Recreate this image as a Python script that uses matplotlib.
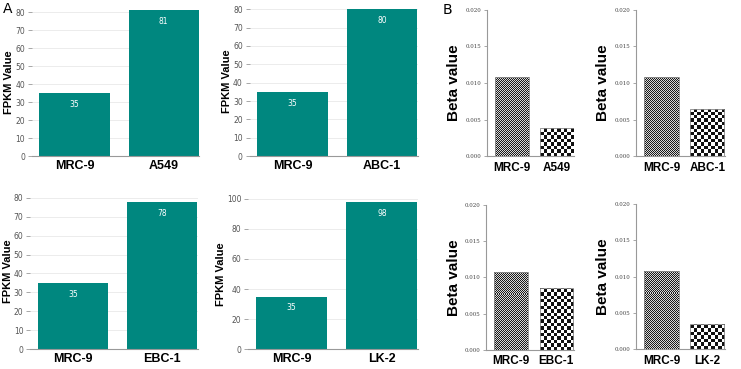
import matplotlib
matplotlib.use("Agg")
import matplotlib.pyplot as plt
import numpy as np

# data
ref_name = "MRC-9"
lines = ["A549", "ABC-1", "EBC-1", "LK-2"]
fpkm_ref = [35, 35, 35, 35]
fpkm_line = [81, 80, 78, 98]
fpkm_ylim = [82, 82, 82, 100]
fpkm_ticks = [np.arange(0, 81, 10), np.arange(0, 81, 10),
              np.arange(0, 81, 10), np.arange(0, 101, 20)]
beta_ref = [0.0108, 0.0108, 0.0108, 0.0108]
beta_line = [0.0039, 0.0064, 0.0085, 0.0035]
beta_ticks = [0.000, 0.005, 0.010, 0.015, 0.020]

TEAL = "#00877f"
SANS = ["Liberation Sans", "DejaVu Sans"]

# axes rectangles in figure fractions (left, bottom, width, height)
A_POS = [(0.043, 0.577, 0.226, 0.400), (0.337, 0.577, 0.227, 0.408),
         (0.041, 0.054, 0.226, 0.420), (0.335, 0.054, 0.229, 0.407)]
B_POS = [(0.657, 0.577, 0.118, 0.396), (0.858, 0.577, 0.120, 0.396),
         (0.656, 0.052, 0.118, 0.393), (0.858, 0.054, 0.120, 0.393)]


def checker(ax, bar, cell_px, dark, light):
    """Fill a bar with a checkerboard clipped to its outline."""
    fig = ax.figure
    bb = ax.get_window_extent(fig.canvas.get_renderer())
    nx = max(1, int(round(bb.width / cell_px)))
    ny = max(1, int(round(bb.height / cell_px)))
    board = (np.add.outer(np.arange(ny), np.arange(nx)) % 2).astype(float)
    cmap = matplotlib.colors.ListedColormap([dark, light])
    im = ax.imshow(board, cmap=cmap, extent=[0, 1, 0, 1], transform=ax.transAxes,
                   interpolation="nearest", aspect="auto", zorder=2)
    im.set_clip_path(bar)


fig = plt.figure(figsize=(7.41, 3.69), dpi=100)

for i, pos in enumerate(A_POS):
    ax = fig.add_axes(pos)
    vals = [fpkm_ref[i], fpkm_line[i]]
    bars = ax.bar([0, 1], vals, width=0.79, color=TEAL, zorder=2)
    for b, v in zip(bars, vals):
        ax.annotate(str(v), (b.get_x() + b.get_width() / 2, v), xytext=(0, -5),
                    textcoords="offset points", ha="center", va="top",
                    color="white", fontsize=5.5, zorder=3)
    ax.set_xlim(-0.48, 1.4)
    ax.set_ylim(0, fpkm_ylim[i])
    ax.set_yticks(fpkm_ticks[i])
    ax.yaxis.grid(True, color="#ececec", linewidth=0.7, zorder=0)
    ax.set_axisbelow(True)
    for s in ["top", "right", "left"]:
        ax.spines[s].set_visible(False)
    ax.spines["bottom"].set_color("#999999")
    ax.spines["bottom"].set_linewidth(0.8)
    ax.tick_params(axis="y", labelsize=5.5, labelcolor="#555555", color="#999999",
                   length=3, width=0.6, pad=2)
    ax.tick_params(axis="x", length=0, pad=3)
    ax.set_xticks([0, 1])
    ax.set_xticklabels([ref_name, lines[i]], fontsize=9, fontweight="bold",
                       family=SANS)
    ax.set_ylabel("FPKM Value", fontsize=8, fontweight="bold", family=SANS,
                  labelpad=0.5)

fig.canvas.draw()

for i, pos in enumerate(B_POS):
    ax = fig.add_axes(pos)
    vals = [beta_ref[i], beta_line[i]]
    bars = ax.bar([0, 1], vals, width=0.75, facecolor="none",
                  edgecolor="#888888", linewidth=0.6, zorder=3)
    ax.set_xlim(-0.56, 1.38)
    ax.set_ylim(0, 0.02)
    fig.canvas.draw()
    checker(ax, bars[0], 1.0, "#1a1a1a", "#d8d8d8")
    checker(ax, bars[1], 3.4, "#111111", "#ffffff")
    ax.set_yticks(beta_ticks)
    ax.set_yticklabels([f"{t:.3f}" for t in beta_ticks], fontsize=4,
                       family="DejaVu Serif", color="#444444")
    for s in ["top", "right"]:
        ax.spines[s].set_visible(False)
    for s in ["left", "bottom"]:
        ax.spines[s].set_color("#999999")
        ax.spines[s].set_linewidth(0.8)
    ax.tick_params(axis="y", color="#999999", length=2, width=0.6, pad=2)
    ax.tick_params(axis="x", length=0, pad=4)
    ax.set_xticks([0, 1])
    ax.set_xticklabels([ref_name, lines[i]], fontsize=8.5, fontweight="bold",
                       family=SANS)
    ax.set_ylabel("Beta value", fontsize=11, fontweight="bold", family=SANS,
                  labelpad=3)

fig.text(0.004, 0.975, "A", fontsize=10, va="center")
fig.text(0.598, 0.972, "B", fontsize=10, va="center")

fig.savefig("out.png", dpi=100)
